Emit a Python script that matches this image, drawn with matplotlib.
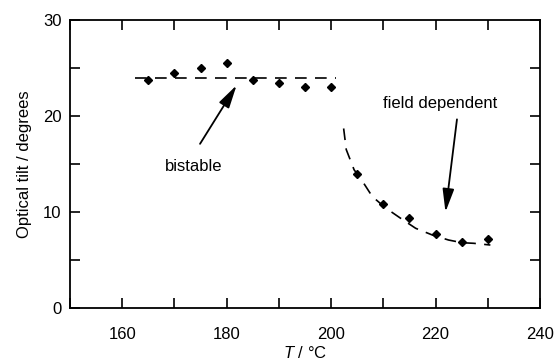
import matplotlib
matplotlib.use("Agg")
import matplotlib.pyplot as plt
from matplotlib.ticker import MultipleLocator

plt.rcParams['font.family'] = ['Liberation Sans', 'DejaVu Sans']
plt.rcParams['mathtext.fontset'] = 'custom'
plt.rcParams['mathtext.it'] = 'Liberation Sans:italic'
plt.rcParams['mathtext.rm'] = 'Liberation Sans'

# Measured data
temp_bistable = [165, 170, 175, 180, 185, 190, 195, 200]
tilt_bistable = [23.75, 24.5, 25.0, 25.55, 23.75, 23.4, 23.0, 23.0]
temp_field = [205, 210, 215, 220, 225, 230]
tilt_field = [14.0, 10.8, 9.4, 7.7, 6.9, 7.2]

# Guide lines (dashed)
flat_x = [162.5, 201.0]
flat_y = [24.0, 24.0]
curve_x = [202.4, 202.9, 204.4, 206.0, 207.9, 210.5, 213.3, 216.2, 219.4, 222.5, 225.1, 227.3, 230.5]
curve_y = [18.7, 16.5, 14.4, 13.2, 11.6, 10.4, 9.35, 8.3, 7.6, 7.08, 6.8, 6.74, 6.56]

fig = plt.figure(figsize=(5.55, 3.62), dpi=100)
ax = fig.add_axes([70/555, 1 - 308/362, 470/555, 288/362])

ax.plot(flat_x, flat_y, color='black', lw=1.2, dashes=(7, 5))
ax.plot(curve_x, curve_y, color='black', lw=1.2, dashes=(7, 5))
ax.plot(temp_bistable, tilt_bistable, 'D', color='black', ms=4.5, ls='none')
ax.plot(temp_field, tilt_field, 'D', color='black', ms=4.5, ls='none')

ax.set_xlim(150, 240)
ax.set_ylim(0, 30)
ax.xaxis.set_major_locator(MultipleLocator(20))
ax.xaxis.set_minor_locator(MultipleLocator(10))
ax.yaxis.set_major_locator(MultipleLocator(10))
ax.yaxis.set_minor_locator(MultipleLocator(5))
ax.tick_params(which='both', direction='in', top=True, right=True, labelsize=12, width=1.2, color='black')
ax.tick_params(which='both', length=7)
ax.tick_params(axis='x', which='major', pad=14)
ax.tick_params(axis='y', which='major', pad=6)
for s in ax.spines.values():
    s.set_linewidth(1.3)

ax.set_xlabel(r'$T$ / °C', fontsize=12, labelpad=2)
ax.set_ylabel('Optical tilt / degrees', fontsize=12, labelpad=8)

arrow_style = dict(arrowstyle='-|>,head_length=1.0,head_width=0.25', color='black',
                   lw=1.3, mutation_scale=14, shrinkA=0, shrinkB=0)
ax.text(173.7, 14.7, 'bistable', fontsize=12, ha='center', va='center')
ax.annotate('', xy=(181.9, 23.2), xytext=(174.9, 17.1), arrowprops=arrow_style)
ax.text(220.9, 21.3, 'field dependent', fontsize=12, ha='center', va='center')
ax.annotate('', xy=(221.9, 10.0), xytext=(224.1, 19.65), arrowprops=arrow_style)

fig.savefig('out.png', dpi=100)
